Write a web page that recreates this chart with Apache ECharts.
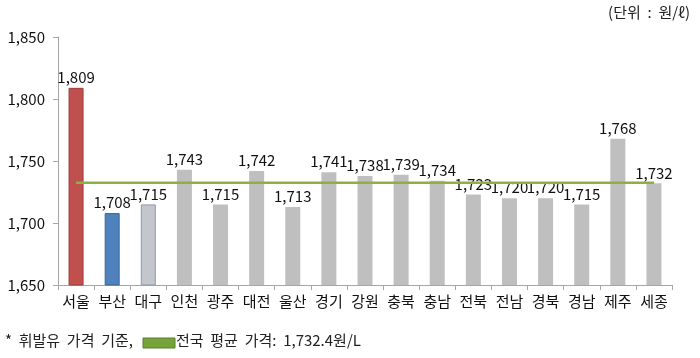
<!DOCTYPE html>
<html><head><meta charset="utf-8">
<script src="https://cdn.jsdelivr.net/npm/echarts@6/dist/echarts.min.js"></script>
<style>html,body{margin:0;padding:0;background:#fff}#c{width:700px;height:358px}</style>
</head><body><div id="c"></div>
<script>
const categories = ['서울','부산','대구','인천','광주','대전','울산','경기','강원','충북','충남','전북','전남','경북','경남','제주','세종'];
const prices = [1809,1708,1715,1743,1715,1742,1713,1741,1738,1739,1734,1723,1720,1720,1715,1768,1732];
const nationalAvg = 1732.4;
const avgLine = categories.map(() => nationalAvg);
const yTicks = [1650, 1700, 1750, 1800, 1850];

const barStyles = {
  0: {color: '#c0504d', borderColor: '#a03a38', borderWidth: 1},
  1: {color: '#4f81bd', borderColor: '#3a6597', borderWidth: 1},
  2: {color: '#c3c7cc', borderColor: '#8a9aae', borderWidth: 1}
};
const FONT = '"Noto Sans CJK KR", sans-serif';
const chart = echarts.init(document.getElementById('c'));
chart.setOption({
  animation: false,
  textStyle: {fontFamily: FONT},
  grid: {left: 58, right: 28, top: 37, bottom: 73},
  xAxis: {
    type: 'category', data: categories, boundaryGap: true,
    axisLine: {lineStyle: {color: '#a6a6a6'}},
    axisTick: {show: true, length: 5, interval: 0, lineStyle: {color: '#a6a6a6'}},
    axisLabel: {color: '#111', fontSize: 15, margin: 9, interval: 0, hideOverlap: false, fontFamily: FONT}
  },
  yAxis: {
    type: 'value', min: yTicks[0], max: yTicks[yTicks.length-1], interval: 50,
    axisLine: {show: true, lineStyle: {color: '#a6a6a6'}},
    axisTick: {show: true, length: 5, lineStyle: {color: '#a6a6a6'}},
    splitLine: {show: false},
    axisLabel: {color: '#111', fontSize: 15, margin: 13, fontFamily: FONT,
      formatter: v => v.toLocaleString('en-US')}
  },
  series: [
    {
      type: 'bar', barWidth: 15,
      data: prices.map((v, i) => ({value: v, itemStyle: barStyles[i] || {color: '#bfbfbf'}})),
      label: {show: true, position: 'top', distance: 3, color: '#111', fontSize: 15, fontFamily: FONT,
        formatter: p => p.value.toLocaleString('en-US')},
      labelLayout: {hideOverlap: false},
      z: 2
    },
    {
      type: 'line', data: avgLine, symbol: 'none',
      lineStyle: {color: '#8db040', width: 2.5}, z: 3, silent: true
    }
  ],
  graphic: [
    {type: 'text', right: 10, top: 5, style: {text: '(단위  :  원/ℓ)', fill: '#222', font: '15px "Noto Sans CJK KR"'}},
    {type: 'text', left: 5, top: 333, style: {text: '*  휘발유  가격  기준,', fill: '#222', font: '15px "Noto Sans CJK KR"'}},
    {type: 'rect', shape: {x: 143, y: 338, width: 32, height: 10}, style: {fill: '#77a33b', stroke: '#5a7f2a', lineWidth: 1}},
    {type: 'text', left: 176, top: 333, style: {text: '전국  평균  가격:  1,732.4원/L', fill: '#222', font: '15px "Noto Sans CJK KR"'}}
  ]
});
</script></body></html>
